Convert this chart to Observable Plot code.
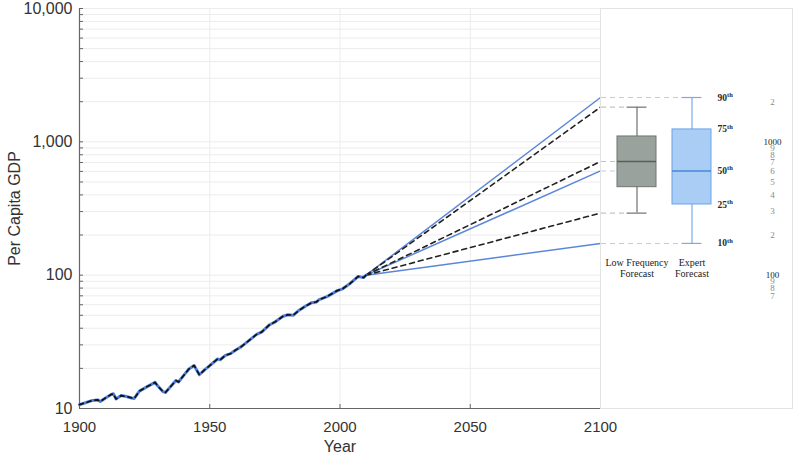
<!DOCTYPE html>
<html><head><meta charset="utf-8">
<script src="https://cdn.jsdelivr.net/npm/d3@7"></script>
<script src="https://cdn.jsdelivr.net/npm/@observablehq/plot@0.6"></script>
<style>
body{margin:0;background:#fff;}
#wrap{position:relative;width:796px;height:455px;overflow:hidden;background:#fff;}
#wrap svg{display:block;}
#panel{position:absolute;left:600px;top:0;}
</style></head><body><div id="wrap"><div id="main"></div><div id="panel"></div></div>
<script>
// ---- data ----
const histYears  = [1900,1902,1905,1907,1908,1910,1912,1913,1914,1916,1917,1918,1920,1921,1923,1926,1929,1930,1932,1933,1935,1937,1938,1940,1942,1944,1946,1948,1950,1953,1954,1956,1958,1960,1962,1965,1968,1970,1973,1975,1978,1980,1982,1984,1987,1989,1991,1992,1995,1999,2001,2004,2007,2009,2010];
const histValues = [10.7,11.0,11.5,11.6,11.3,12.0,12.7,12.9,11.8,12.5,12.4,12.3,12.0,11.9,13.5,14.6,15.7,14.8,13.4,13.2,14.6,16.2,15.8,17.7,19.8,21.0,17.9,19.5,21.0,23.5,23.2,25.0,25.8,27.5,29.0,32.3,36.0,37.5,42.5,44.5,49.0,50.5,50.0,54.0,59.0,62.0,63.0,65.6,69.0,76.6,79.0,87.0,97.8,96.0,100.0];
const forecastStartYear = 2010;
const forecastEndYear = 2100;
const forecastStartValue = 100;
const percentileNames = ["10th","25th","50th","75th","90th"];
const lowFreqStats = [292, 457, 712, 1097, 1820];   // 10,25,50,75,90th
const expertStats  = [173, 339, 605, 1239, 2150];
const boxCategories = ["Low Frequency Forecast", "Expert Forecast"];
const boxLabels = ["Low Frequency\nForecast", "Expert\nForecast"];
const xTicks = [1900, 1950, 2000, 2050, 2100];
const yMajorTicks = [10, 100, 1000, 10000];
const panelTickValues = [2000, 1000, 900, 800, 700, 600, 500, 400, 300, 200, 100, 90, 80, 70];
const panelTickLabels = ["2", "1000", "9", "8", "7", "6", "5", "4", "3", "2", "100", "9", "8", "7"];

// ---- derived tables ----
const hist = histYears.map((year, i) => ({year, value: histValues[i]}));
const fanLines = (stats) => [0, 2, 4].flatMap(k => [
  {year: forecastStartYear, value: forecastStartValue, k},
  {year: forecastEndYear, value: stats[k], k}
]);
const expertLines = fanLines(expertStats);
const lowLines = fanLines(lowFreqStats);
const yMinorTicks = d3.scaleLog().domain([10, 10000]).ticks();
const boxes = boxCategories.map((cat, i) => {
  const s = i === 0 ? lowFreqStats : expertStats;
  return {cat, label: boxLabels[i], p10: s[0], p25: s[1], p50: s[2], p75: s[3], p90: s[4]};
});
const pctRows = percentileNames.map((name, i) => ({name, value: expertStats[i]}));
const panelTicks = panelTickValues.map((v, i) => ({v, label: panelTickLabels[i], major: yMajorTicks.includes(v)}));

const sans = "'Liberation Sans', Arial, Helvetica, sans-serif";
const serif = "'Liberation Serif', 'DejaVu Serif', Times, serif";

// ---- main chart ----
const main = Plot.plot({
  width: 796, height: 455,
  marginLeft: 79, marginRight: 196, marginTop: 8, marginBottom: 47,
  style: {fontFamily: sans, color: "#333", background: "transparent", overflow: "visible"},
  x: {domain: [1900, 2100]},
  y: {type: "log", domain: [10, 10000]},
  marks: [
    Plot.gridY(yMinorTicks, {stroke: "#ececec", strokeOpacity: 1}),
    Plot.gridX(xTicks, {stroke: "#ececec", strokeOpacity: 1}),
    Plot.axisY(yMinorTicks, {tickSize: -4, tickFormat: () => "", stroke: "#666", label: null}),
    Plot.axisY(yMajorTicks, {tickSize: 0, tickPadding: 7, tickFormat: ",", fontSize: 16, fill: "#333", label: null}),
    Plot.axisX(xTicks, {tickSize: -4, tickFormat: () => "", stroke: "#666", label: null}),
    Plot.axisX(xTicks, {tickSize: 0, tickPadding: 13, tickFormat: d => String(d), fontSize: 15, fill: "#333", label: null}),
    Plot.ruleX([1900], {stroke: "#666", strokeWidth: 1.2}),
    Plot.ruleY([10], {stroke: "#666", strokeWidth: 1.2}),
    Plot.text(["Per Capita GDP"], {frameAnchor: "left", dx: -65, rotate: -90, textAnchor: "middle", lineAnchor: "middle", fontSize: 16, fill: "#333"}),
    Plot.text(["Year"], {frameAnchor: "bottom", dy: 43, lineAnchor: "bottom", textAnchor: "middle", fontSize: 16, fill: "#333"}),
    Plot.line(expertLines, {x: "year", y: "value", z: "k", stroke: "#5b86d9", strokeWidth: 1.5}),
    Plot.line(lowLines, {x: "year", y: "value", z: "k", stroke: "#222", strokeWidth: 1.6, strokeDasharray: "5,4"}),
    Plot.line(hist, {x: "year", y: "value", stroke: "#4f7fdc", strokeWidth: 3}),
    Plot.line(hist, {x: "year", y: "value", stroke: "#111", strokeWidth: 1.7, strokeDasharray: "4,4"})
  ]
});
document.getElementById("main").appendChild(main);

// ---- box plot panel ----
const bandRange = [16, 111];
const band = d3.scaleBand().domain(boxCategories).range(bandRange).paddingInner(0.3).paddingOuter(0);
const bw = band.bandwidth();
const capInset = (bw - 20) / 2;
const lfStart = band(boxCategories[0]);
const boxStyle = {
  [boxCategories[0]]: {fill: "#9aa29e", stroke: "#6e7572", whisker: "#707070", median: "#596059", conn: "#c4c4c4"},
  [boxCategories[1]]: {fill: "#a9cdf5", stroke: "#6aa3ea", whisker: "#79aae8", median: "#4a86d8", conn: "#b3cff3"}
};
const lf = boxes[0], ex = boxes[1];
// connectors from the 2100 line ends into the panel
const connWhisker = [lf, ex].flatMap(b => ["p90", "p10"].map(p => ({cat: b.cat, value: b[p]})));
const connMedian = [lf, ex].map(b => ({cat: b.cat, value: b.p50}));
const connStyle = d => boxStyle[d.cat].conn;

const panel = Plot.plot({
  width: 196, height: 455,
  marginLeft: 0, marginRight: 4, marginTop: 8, marginBottom: 47,
  style: {fontFamily: serif, background: "transparent", overflow: "visible"},
  x: {type: "band", domain: boxCategories, range: bandRange, paddingInner: 0.3, paddingOuter: 0, axis: null},
  y: {type: "log", domain: [10, 10000], axis: null},
  marks: [
    Plot.frame({fill: "white", stroke: "#e3e3e3"}),
    // whisker connectors: from panel edge to cap left end
    Plot.ruleY(connWhisker, {
      y: "value", x1: () => boxCategories[0], x2: "cat",
      insetLeft: -lfStart, insetRight: bw - capInset,
      stroke: connStyle, strokeDasharray: "5,4", strokeWidth: 1.1
    }),
    // median connectors: from panel edge to the first box edge
    Plot.ruleY(connMedian, {
      y: "value", x1: () => boxCategories[0], x2: () => boxCategories[0],
      insetLeft: -lfStart, insetRight: bw,
      stroke: connStyle, strokeDasharray: "5,4", strokeWidth: 1.1
    }),
    Plot.ruleX(boxes, {x: "cat", y1: "p10", y2: "p90", stroke: d => boxStyle[d.cat].whisker, strokeWidth: 1.2}),
    Plot.tickY(boxes, {x: "cat", y: "p10", insetLeft: capInset, insetRight: capInset, stroke: d => boxStyle[d.cat].whisker, strokeWidth: 1.2}),
    Plot.tickY(boxes, {x: "cat", y: "p90", insetLeft: capInset, insetRight: capInset, stroke: d => boxStyle[d.cat].whisker, strokeWidth: 1.2}),
    Plot.barY(boxes, {x: "cat", y1: "p25", y2: "p75", fill: d => boxStyle[d.cat].fill, stroke: d => boxStyle[d.cat].stroke, strokeWidth: 1}),
    Plot.tickY(boxes, {x: "cat", y: "p50", stroke: d => boxStyle[d.cat].median, strokeWidth: 1.4}),
    Plot.text(boxes, {x: "cat", text: "label", frameAnchor: "top", dy: 250, lineAnchor: "top", lineHeight: 1.1, fontSize: 10, fill: "#222"}),
    Plot.text(pctRows, {y: "value", text: "name", frameAnchor: "left", dx: 117, textAnchor: "start", fontSize: 9.5, fontWeight: "bold", fill: "#2a2a2a"}),
    Plot.text(panelTicks, {y: "v", text: "label", frameAnchor: "left", dx: 172, textAnchor: "middle", fontSize: 9, fill: d => d.major ? "#222" : "#8a8a8a"})
  ]
});
document.getElementById("panel").appendChild(panel);

// superscript "th"
d3.select(panel).selectAll("text").each(function() {
  const t = this.textContent;
  const m = /^(\d+)th$/.exec(t);
  if (m) {
    this.textContent = "";
    const sel = d3.select(this);
    sel.append("tspan").text(m[1]);
    sel.append("tspan").attr("dy", -3.5).attr("font-size", 6.5).text("th");
  }
});
</script></body></html>
